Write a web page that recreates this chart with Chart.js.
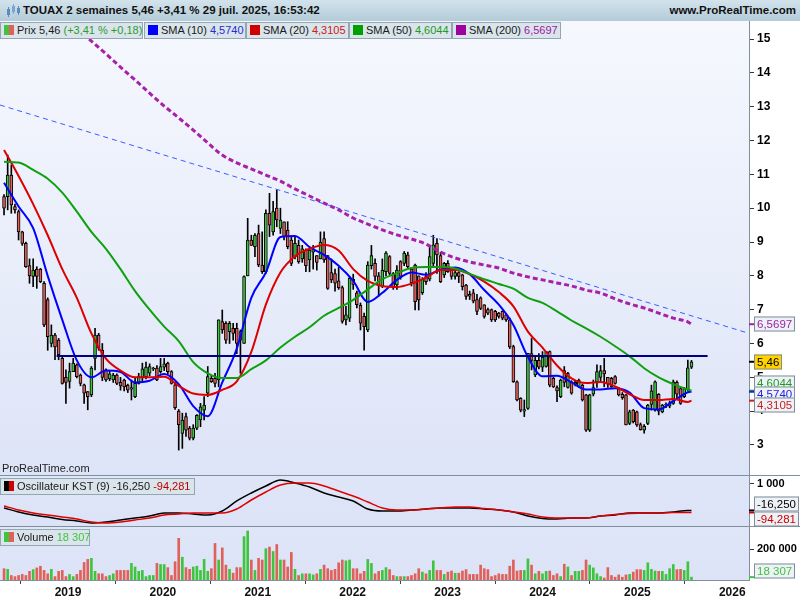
<!DOCTYPE html>
<html>
<head>
<meta charset="utf-8">
<script src="https://cdn.jsdelivr.net/npm/chart.js@4.4.1/dist/chart.umd.min.js"></script>
<style>
  body { margin: 0; width: 800px; height: 600px; overflow: hidden; background: #fff; position: relative;
         font-family: "Liberation Sans", Arial, sans-serif; }
  canvas { position: absolute; left: 0; }
  #titlebar { position: absolute; left: 0; top: 0; width: 800px; height: 21px;
              background: linear-gradient(#d3e3ec, #b3cbd8); }
  #titlebar .t { position: absolute; left: 23px; top: 4px; font-size: 11.5px; font-weight: bold; color: #111; }
  #titlebar .w { position: absolute; right: 4px; top: 4px; font-size: 11.5px; font-weight: bold; color: #111; }
  #titlebar svg { position: absolute; left: 5px; top: 3px; }
  .leg { position: absolute; height: 17px; box-sizing: border-box; border: 1px solid #93a6b3;
         background: #d9e4eb; font-size: 11px; color: #1a1a1a; line-height: 15px; white-space: nowrap; padding-left: 16px; }
  .leg i { position: absolute; left: 3px; top: 2px; width: 10px; height: 10px; }
  .sep { position: absolute; left: 0; width: 800px; height: 1px; background: #7f8f9b; }
  #wm { position: absolute; left: 2px; top: 462px; font-size: 11px; color: #222; }
</style>
</head>
<body>
<div id="titlebar">
  <svg width="16" height="15" viewBox="0 0 16 15">
    <rect x="2" y="6" width="3" height="6" fill="#5a8cc0"/><rect x="3" y="4" width="1" height="10" fill="#5a8cc0"/>
    <rect x="7" y="3" width="3" height="6" fill="#7aa6d6"/><rect x="8" y="1" width="1" height="10" fill="#7aa6d6"/>
    <rect x="12" y="5" width="3" height="5" fill="#5a8cc0"/><rect x="13" y="3" width="1" height="9" fill="#5a8cc0"/>
  </svg>
  <span class="t">TOUAX 2 semaines 5,46 +3,41 % 29 juil. 2025, 16:53:42</span>
  <span class="w">www.ProRealTime.com</span>
</div>

<canvas id="main" width="800" height="454" style="top:21px"></canvas>
<canvas id="kst" width="800" height="52" style="top:475px"></canvas>
<canvas id="vol" width="800" height="73" style="top:527px"></canvas>

<div class="sep" style="top:475px"></div>
<div class="sep" style="top:526px"></div>

<div class="leg" style="left:0;top:22px;width:143px"><i style="background:linear-gradient(90deg,#3fc43f 50%,#e0605a 50%)"></i>Prix 5,46 <span style="color:#2f9a2f">(+3,41 % +0,18)</span></div>
<div class="leg" style="left:144px;top:22px;width:102px"><i style="background:#0000ff"></i>SMA (10) <span style="color:#2b2bd0">4,5740</span></div>
<div class="leg" style="left:246px;top:22px;width:103px"><i style="background:#d00000"></i>SMA (20) <span style="color:#cc2020">4,3105</span></div>
<div class="leg" style="left:349px;top:22px;width:103px"><i style="background:#00a000"></i>SMA (50) <span style="color:#1e9a1e">4,6044</span></div>
<div class="leg" style="left:452px;top:22px;width:109px"><i style="background:#a000a0"></i>SMA (200) <span style="color:#a020a0">6,5697</span></div>
<div id="wm">ProRealTime.com</div>
<div class="leg" style="left:0;top:478px;width:195px"><i style="background:linear-gradient(90deg,#000 50%,#d00000 50%)"></i>Oscillateur KST (9) -16,250 <span style="color:#c00000">-94,281</span></div>
<div class="leg" style="left:0;top:529px;width:90px"><i style="background:linear-gradient(90deg,#3fc43f 50%,#e0605a 50%)"></i>Volume <span style="color:#3fc43f">18 307</span></div>

<script>
// Bars de 2 semaines, TOUAX
const opens = [
  10.34, 10.34, 10.98, 10.05, 9.9, 9.3, 8.96, 8.3, 7.98, 8.2,
  8.2, 7.78, 7.3, 6.0, 6.25, 6.1, 5.56, 5.0, 4.88, 5.17,
  5.37, 5.07, 4.78, 4.58, 4.48, 5.56, 6.25, 5.8, 5.22, 4.95,
  4.92, 5.07, 4.85, 4.92, 4.77, 4.65, 4.43, 4.82, 5.0, 5.02,
  5.12, 5.25, 5.27, 5.17, 5.3, 5.42, 5.17, 4.78, 4.0, 3.34,
  3.84, 3.5, 3.2, 3.5, 3.74, 4.03, 4.53, 4.97, 4.97, 4.92,
  6.65, 6.6, 6.35, 6.45, 6.45, 6.35, 6.0, 8.0, 9.06, 8.86,
  9.25, 8.32, 8.12, 9.85, 9.3, 10.0, 9.4, 9.6, 9.35, 9.06,
  8.57, 8.9, 8.5, 8.76, 8.47, 8.7, 8.6, 8.5, 9.1, 8.6,
  8.1, 8.07, 7.85, 7.65, 6.7, 6.75, 7.9, 7.5, 7.13, 6.8,
  6.4, 8.3, 8.37, 8.0, 7.7, 8.12, 8.57, 8.07, 7.73, 8.42,
  8.37, 8.62, 8.2, 8.32, 8.0, 7.5, 7.98, 7.9, 8.37, 8.96,
  8.6, 8.03, 8.37, 8.17, 7.98, 8.1, 8.03, 7.73, 7.45, 7.5,
  7.3, 7.35, 7.14, 7.0, 7.0, 6.95, 6.9, 6.95, 6.85, 6.7,
  5.91, 4.87, 4.38, 4.0, 4.08, 5.7, 5.07, 5.5, 5.3, 5.32,
  5.76, 4.97, 4.7, 4.43, 5.2, 4.7, 4.87, 4.8, 4.72, 4.77,
  4.48, 3.44, 4.5, 4.87, 5.0, 5.2, 5.0, 4.97, 5.02, 4.67,
  4.5, 4.48, 3.64, 4.03, 3.98, 3.6, 3.44, 3.64, 4.2, 4.03,
  4.5, 3.98, 4.18, 4.15, 4.23, 4.85, 4.67, 4.43, 4.63, 5.30
];
const highs = [
  10.4, 11.57, 11.28, 10.12, 9.95, 9.32, 9.0, 8.5, 8.5, 8.27,
  8.22, 7.83, 7.35, 6.55, 6.3, 6.15, 5.6, 5.22, 5.42, 5.56,
  5.4, 5.1, 4.8, 4.58, 5.32, 6.45, 6.3, 6.0, 5.25, 5.2,
  5.12, 5.1, 5.0, 4.95, 4.8, 4.92, 5.0, 5.12, 5.42, 5.45,
  5.4, 5.3, 5.35, 5.56, 5.56, 5.45, 5.2, 4.85, 4.05, 3.94,
  3.94, 3.55, 3.6, 3.9, 4.23, 4.43, 5.32, 5.05, 5.12, 6.7,
  6.99, 6.65, 6.65, 6.6, 6.6, 6.4, 8.0, 9.7, 9.2, 9.25,
  9.5, 9.3, 9.95, 10.44, 10.2, 10.54, 10.0, 9.6, 9.6, 9.16,
  9.16, 9.06, 8.9, 8.8, 8.8, 8.9, 8.6, 9.3, 9.3, 8.6,
  8.5, 8.2, 8.25, 7.7, 7.1, 7.98, 8.05, 7.55, 7.2, 6.9,
  8.42, 8.9, 8.5, 8.1, 8.5, 8.72, 8.6, 8.1, 8.3, 8.45,
  8.72, 8.7, 8.25, 8.35, 8.0, 7.95, 8.1, 8.87, 9.2, 9.1,
  8.7, 8.4, 8.45, 8.2, 8.15, 8.12, 8.05, 7.75, 7.55, 7.6,
  7.45, 7.38, 7.15, 7.05, 7.02, 6.98, 6.92, 6.97, 6.87, 6.75,
  5.95, 4.9, 4.4, 4.33, 5.71, 6.15, 5.6, 5.7, 5.76, 5.76,
  5.78, 5.0, 4.75, 4.95, 5.32, 5.15, 4.9, 4.9, 4.95, 4.8,
  4.5, 4.5, 4.92, 5.37, 5.35, 5.56, 5.0, 5.0, 5.05, 4.7,
  4.55, 4.5, 4.03, 4.05, 4.0, 3.65, 3.6, 4.2, 4.77, 4.9,
  4.52, 4.2, 4.25, 4.3, 4.92, 4.9, 4.7, 4.7, 5.51, 5.50
];
const lows = [
  9.8, 9.95, 9.85, 9.85, 9.06, 8.9, 8.25, 7.78, 7.68, 7.63,
  7.8, 6.5, 5.8, 5.9, 5.52, 5.52, 4.8, 4.23, 4.68, 5.17,
  4.98, 4.75, 4.23, 4.04, 4.43, 5.22, 5.8, 4.9, 4.88, 4.9,
  4.85, 4.78, 4.62, 4.6, 4.55, 4.33, 4.4, 4.8, 4.9, 4.95,
  5.05, 5.2, 4.9, 5.12, 5.2, 5.1, 4.8, 4.05, 2.85, 2.9,
  3.25, 3.15, 3.15, 3.45, 3.54, 3.74, 4.43, 4.85, 4.72, 4.72,
  6.3, 6.0, 6.0, 6.1, 5.7, 5.12, 6.0, 8.0, 8.9, 8.57,
  8.27, 8.07, 8.07, 9.16, 9.2, 9.45, 9.25, 9.06, 8.8, 8.3,
  8.5, 8.37, 8.4, 8.12, 8.12, 8.2, 8.17, 8.5, 8.4, 7.6,
  7.8, 7.55, 7.6, 6.6, 6.55, 6.65, 7.6, 7.05, 6.4, 5.8,
  6.35, 8.2, 7.85, 7.4, 7.65, 8.0, 8.0, 7.6, 7.6, 7.9,
  8.3, 8.2, 7.7, 6.99, 6.99, 7.45, 7.75, 7.85, 8.3, 8.07,
  7.8, 7.95, 8.1, 7.9, 7.9, 7.8, 7.58, 7.3, 7.3, 7.2,
  6.85, 7.0, 6.75, 6.85, 6.65, 6.65, 6.75, 6.7, 6.65, 5.85,
  4.85, 4.3, 3.98, 3.84, 4.05, 5.22, 5.02, 5.25, 5.17, 5.3,
  4.72, 4.7, 4.28, 4.4, 4.72, 4.68, 4.5, 4.75, 4.7, 4.3,
  3.4, 3.4, 4.45, 4.7, 4.85, 4.72, 4.7, 4.7, 4.8, 4.45,
  4.35, 3.59, 3.6, 3.65, 3.55, 3.44, 3.35, 3.6, 4.03, 4.0,
  3.89, 3.95, 4.1, 4.1, 4.2, 4.4, 4.2, 4.4, 4.6, 5.26
];
const closes = [
  10.0, 10.98, 10.1, 9.95, 9.3, 8.96, 8.27, 8.0, 8.17, 7.98,
  7.83, 6.55, 6.2, 6.25, 5.9, 5.67, 4.82, 4.85, 5.17, 5.42,
  5.02, 4.82, 4.53, 4.43, 5.27, 6.25, 5.86, 5.0, 4.92, 5.1,
  5.07, 4.82, 4.75, 4.72, 4.62, 4.7, 4.82, 5.02, 5.25, 5.3,
  5.32, 5.27, 4.92, 5.32, 5.4, 5.17, 4.82, 4.1, 3.6, 3.74,
  3.44, 3.2, 3.5, 3.88, 4.13, 4.18, 5.02, 4.87, 4.82, 6.7,
  6.4, 6.1, 6.6, 6.3, 6.0, 6.1, 7.98, 9.06, 8.9, 9.2,
  8.32, 8.12, 9.85, 9.5, 9.9, 9.65, 9.65, 9.16, 8.86, 8.37,
  8.96, 8.42, 8.8, 8.3, 8.76, 8.8, 8.4, 9.0, 8.47, 7.63,
  7.88, 7.78, 7.65, 6.65, 6.85, 7.93, 7.75, 7.15, 6.6, 6.5,
  8.32, 8.6, 7.98, 7.7, 8.17, 8.67, 8.07, 7.68, 8.17, 7.98,
  8.67, 8.27, 7.8, 7.24, 7.29, 7.9, 7.83, 8.57, 8.92, 8.62,
  7.83, 8.37, 8.12, 7.98, 8.1, 7.98, 7.68, 7.39, 7.4, 7.25,
  6.95, 7.04, 6.8, 6.9, 6.7, 6.7, 6.8, 6.75, 6.7, 5.9,
  4.87, 4.33, 4.03, 4.05, 5.71, 5.5, 5.5, 5.3, 5.6, 5.76,
  4.77, 4.72, 4.6, 4.92, 4.85, 5.12, 4.53, 4.85, 4.92, 4.33,
  3.44, 4.48, 4.7, 5.17, 5.2, 5.1, 4.8, 4.72, 4.82, 4.48,
  4.4, 3.59, 3.98, 3.69, 3.59, 3.45, 3.55, 4.18, 4.6, 4.87,
  4.0, 4.18, 4.2, 4.25, 4.87, 4.5, 4.23, 4.67, 5.28, 5.46
];
const volumes = [
  73000, 69000, 29000, 22000, 29000, 36000, 29000, 56000, 67000, 78000,
  89000, 62000, 40000, 69000, 22000, 56000, 62000, 22000, 36000, 22000,
  36000, 62000, 113000, 133000, 140000, 56000, 40000, 40000, 22000, 29000,
  40000, 62000, 62000, 62000, 62000, 107000, 84000, 56000, 62000, 22000,
  29000, 29000, 107000, 100000, 100000, 80000, 29000, 118000, 269000, 147000,
  80000, 69000, 84000, 89000, 62000, 133000, 56000, 73000, 236000, 129000,
  207000, 96000, 69000, 44000, 80000, 80000, 280000, 316000, 129000, 62000,
  140000, 129000, 202000, 213000, 184000, 229000, 129000, 129000, 84000, 178000,
  69000, 29000, 40000, 40000, 40000, 33000, 40000, 69000, 96000, 73000,
  62000, 69000, 111000, 129000, 124000, 129000, 73000, 73000, 40000, 56000,
  133000, 107000, 40000, 56000, 62000, 80000, 67000, 29000, 22000, 22000,
  22000, 22000, 29000, 40000, 73000, 51000, 40000, 62000, 124000, 62000,
  62000, 36000, 51000, 58000, 44000, 44000, 58000, 67000, 36000, 36000,
  36000, 96000, 73000, 67000, 22000, 29000, 40000, 36000, 36000, 89000,
  129000, 58000, 62000, 62000, 136000, 96000, 40000, 56000, 40000, 56000,
  58000, 29000, 40000, 22000, 102000, 84000, 29000, 56000, 56000, 62000,
  129000, 96000, 78000, 40000, 22000, 13000, 80000, 29000, 18000, 33000,
  18000, 33000, 36000, 51000, 67000, 67000, 62000, 111000, 69000, 58000,
  56000, 56000, 36000, 73000, 100000, 67000, 69000, 62000, 118000, 18307
];

// indicateurs relevés toutes les 4 barres (indices 0, 4, ... 188, puis 189)
const indIdx = [0, 4, 8, 12, 16, 20, 24, 28, 32, 36, 40, 44, 48, 52, 56, 60, 64, 68, 72, 76,
  80, 84, 88, 92, 96, 100, 104, 108, 112, 116, 120, 124, 128, 132, 136, 140, 144, 148, 152, 156,
  160, 164, 168, 172, 176, 180, 184, 188, 189];
const sma10 = [10.75, 10.05, 9.41, 8.0, 6.7, 5.5, 5.0, 5.2, 5.16, 4.85, 4.9, 5.1, 4.8, 4.15, 3.85,
  4.85, 5.85, 7.35, 8.1, 9.15, 9.18, 8.85, 8.62, 8.3, 7.85, 7.23, 7.5, 7.88, 8.1, 8.03, 8.18, 8.25,
  8.05, 7.58, 7.15, 6.55, 5.6, 5.03, 5.05, 4.85, 4.64, 4.64, 4.68, 4.55, 4.09, 4.05, 4.3, 4.56, 4.574];
const sma20 = [11.72, 10.95, 10.12, 9.2, 8.2, 7.35, 6.3, 5.55, 5.2, 5.0, 5.0, 5.02, 4.75, 4.52, 4.48,
  4.63, 4.88, 5.75, 7.15, 8.1, 8.58, 8.8, 8.91, 8.75, 8.2, 7.85, 7.7, 7.67, 7.77, 7.95, 8.17, 8.17,
  8.05, 7.83, 7.52, 7.1, 6.35, 5.88, 5.35, 4.97, 4.83, 4.86, 4.73, 4.5, 4.33, 4.33, 4.36, 4.27, 4.3105];
const sma50 = [11.37, 11.35, 11.13, 10.87, 10.46, 9.9, 9.3, 8.8, 8.2, 7.55, 7.0, 6.5, 6.07, 5.45, 5.12,
  4.98, 4.98, 5.24, 5.5, 5.88, 6.2, 6.48, 6.82, 7.05, 7.29, 7.6, 7.9, 8.08, 8.23, 8.26, 8.26, 8.22,
  8.06, 7.9, 7.76, 7.62, 7.35, 7.2, 6.95, 6.68, 6.45, 6.2, 5.92, 5.62, 5.27, 5.0, 4.8, 4.64, 4.6044];
const sma200 = [null, null, null, null, null, 15.3, 14.94, 14.56, 14.17, 13.79, 13.4, 13.02, 12.67,
  12.31, 11.93, 11.57, 11.34, 11.16, 10.98, 10.8, 10.57, 10.36, 10.15, 9.95, 9.71, 9.53, 9.36, 9.21,
  9.09, 8.94, 8.7, 8.53, 8.41, 8.32, 8.23, 8.08, 7.97, 7.88, 7.79, 7.7, 7.58, 7.49, 7.32, 7.17, 7.05,
  6.9, 6.75, 6.64, 6.5697];
const kstLine = [75, -75, -190, -264, -358, -415, -490, -452, -377, -302, -226, -113, -113, -151, -190,
  -38, 340, 640, 905, 1130, 1018, 867, 640, 490, 340, 38, -38, -38, 0, 38, 75, 75, 75, 38, 0, -75,
  -226, -320, -339, -302, -302, -226, -190, -113, -113, -113, -75, -16, -16.25];
const kstSignal = [151, 0, -113, -190, -264, -340, -452, -490, -452, -377, -302, -190, -151, -113,
  -113, -113, 38, 377, 680, 943, 1018, 1018, 905, 716, 528, 300, 75, 0, 0, 38, 75, 113, 113, 56, 0,
  -75, -151, -264, -302, -302, -302, -226, -170, -132, -113, -113, -94, -90, -94.281];

// tracés manuels
const trendValues = [13.05, 6.3];          // droite de tendance, bords gauche et droit
const supportValue = 5.63;                  // ligne horizontale
const supportSpan = [2018.88, 2025.74];

const priceTicks = [3, 4, 5, 6, 7, 8, 9, 10, 11, 12, 13, 14, 15];
const yearTicks = [2019, 2020, 2021, 2022, 2023, 2024, 2025, 2026];

const X_MIN = 2018.2835, X_MAX = 2026.176;
const FONT = '"Liberation Sans", Arial, sans-serif';
const UP = '#3fc43f', DOWN = '#e0605a';

function toYear(ms) {
    const d = new Date(ms);
    const y = d.getUTCFullYear();
    const a = Date.UTC(y, 0, 1), b = Date.UTC(y + 1, 0, 1);
    return y + (ms - a) / (b - a);
}
const start = Date.UTC(2018, 3, 30);
const barDates = closes.map((_, i) => toYear(start + i * 14 * 86400000));

const pts = arr => indIdx.map((k, j) => ({ x: barDates[k], y: arr[j] }));
const frFmt = (v, d) => v.toFixed(d).replace('.', ',');

function fixAxis(w) {
    return s => { s.width = w; s.paddingTop = 0; s.paddingBottom = 0; s.paddingLeft = 0; s.paddingRight = 0; };
}
function xScale(show) {
    return {
        type: 'linear', min: X_MIN, max: X_MAX, offset: false, display: show,
        afterBuildTicks: s => { s.ticks = yearTicks.map(v => ({ value: v })); },
        afterFit: s => { s.height = show ? 20 : 0; s.paddingLeft = 0; s.paddingRight = 0; },
        ticks: { autoSkip: false, maxRotation: 0, padding: 1, color: '#111',
                 font: { family: FONT, size: 12, weight: 'bold' }, callback: v => String(Math.round(v)) },
        grid: { drawOnChartArea: false, tickLength: 4, tickColor: '#444' },
        border: { color: '#7f8f9b' }
    };
}
function yScale(min, max, ticks, fmt, size) {
    return {
        position: 'right', min: min, max: max,
        afterBuildTicks: s => { s.ticks = ticks.map(v => ({ value: v })); },
        afterFit: fixAxis(51),
        ticks: { color: '#000', padding: 3, font: { family: FONT, size: size || 12, weight: 'bold' }, callback: fmt },
        grid: { drawOnChartArea: false, tickLength: 5, tickColor: '#333' },
        border: { color: '#7f8f9b' }
    };
}

const panelBg = (c1, c2) => ({
    id: 'panelBg',
    beforeDraw(chart) {
        const { ctx, chartArea: a } = chart;
        const g = ctx.createLinearGradient(0, a.top, 0, a.bottom);
        g.addColorStop(0, c1);
        g.addColorStop(1, c2);
        ctx.save();
        ctx.fillStyle = g;
        ctx.fillRect(a.left, a.top, a.right - a.left, a.bottom - a.top);
        ctx.restore();
    }
});

// étiquettes de valeur sur l'axe droit
const badges = (list, minY, maxY, gap) => ({
    id: 'badges',
    afterDraw(chart) {
        const { ctx, chartArea: a } = chart;
        const ys = chart.scales.y;
        const items = list.map(b => Object.assign({ py: ys.getPixelForValue(b.value) }, b));
        items.forEach(b => { b.cy = b.py; });
        // regroupe les étiquettes qui se chevauchent
        const sorted = items.slice().sort((p, q) => p.py - q.py);
        let groups = sorted.map(b => [b]);
        let merged = true;
        while (merged) {
            merged = false;
            for (let g = 0; g < groups.length - 1; g++) {
                const A = groups[g], B = groups[g + 1];
                if (A[A.length - 1].cy + gap > B[0].cy) {
                    const grp = A.concat(B);
                    const mean = grp.reduce((s, b) => s + b.py, 0) / grp.length;
                    grp.forEach((b, k) => { b.cy = mean + (k - (grp.length - 1) / 2) * gap; });
                    groups.splice(g, 2, grp);
                    merged = true;
                    break;
                }
            }
        }
        ctx.save();
        ctx.font = '11.5px ' + FONT;
        ctx.textBaseline = 'middle';
        sorted.forEach(b => {
            const cy = Math.max(minY, Math.min(maxY, b.cy));
            ctx.strokeStyle = b.color;
            ctx.lineWidth = 2;
            ctx.beginPath(); ctx.moveTo(a.right, b.py); ctx.lineTo(a.right + 5, b.py); ctx.stroke();
            const w = Math.ceil(ctx.measureText(b.text).width) + 5;
            const x = a.right + 5, y = Math.round(cy) - 7.5;
            ctx.fillStyle = b.bg || '#eef2f6';
            ctx.fillRect(x, y, w, 15);
            ctx.strokeStyle = '#7d8d99';
            ctx.lineWidth = 1;
            ctx.strokeRect(x + 0.5, y + 0.5, w - 1, 14);
            ctx.fillStyle = b.color;
            ctx.fillText(b.text, x + 3, y + 8);
        });
        ctx.restore();
    }
});

const last = arr => arr[arr.length - 1];
const common = { responsive: false, animation: false, devicePixelRatio: 1, layout: { padding: 0 },
                 plugins: { legend: { display: false }, tooltip: { enabled: false } } };

// Graphique principal : cours + moyennes mobiles
new Chart(document.getElementById('main'), {
    type: 'bar',
    data: {
        datasets: [
            {
                type: 'line', data: [{ x: X_MIN, y: trendValues[0] }, { x: X_MAX, y: trendValues[1] }],
                borderColor: '#3d5cff', borderWidth: 1, borderDash: [5, 4], pointRadius: 0, order: 1
            },
            {
                type: 'line', data: [{ x: supportSpan[0], y: supportValue }, { x: supportSpan[1], y: supportValue }],
                borderColor: '#000088', borderWidth: 2, pointRadius: 0, order: 2
            },
            {
                type: 'line', data: pts(sma200), borderColor: '#a81fa8', borderWidth: 3, borderDash: [5, 3],
                pointRadius: 0, tension: 0.4, cubicInterpolationMode: 'monotone', spanGaps: false, order: 3
            },
            {
                type: 'line', data: pts(sma50), borderColor: '#0fa00f', borderWidth: 2, pointRadius: 0,
                cubicInterpolationMode: 'monotone', order: 3
            },
            {
                type: 'line', data: pts(sma20), borderColor: '#dd0000', borderWidth: 2, pointRadius: 0,
                cubicInterpolationMode: 'monotone', order: 3
            },
            {
                type: 'line', data: pts(sma10), borderColor: '#0000ff', borderWidth: 2, pointRadius: 0,
                cubicInterpolationMode: 'monotone', order: 3
            },
            {
                data: barDates.map((t, i) => ({ x: t, y: [opens[i], closes[i]] })),
                backgroundColor: closes.map((c, i) => c >= opens[i] ? UP : DOWN),
                borderColor: '#000', borderWidth: 1, borderSkipped: false,
                barThickness: 3, grouped: false, order: 8
            },
            {
                data: barDates.map((t, i) => ({ x: t, y: [lows[i], highs[i]] })),
                backgroundColor: '#000', barThickness: 1, grouped: false, order: 9
            }
        ]
    },
    options: Object.assign({}, common, {
        scales: {
            x: xScale(false),
            y: yScale(2.1132, 15.533, priceTicks, v => String(v))
        }
    }),
    plugins: [
        panelBg('#f6f8fe', '#dde4f7'),
        badges([
            { value: last(sma200), text: frFmt(last(sma200), 4), color: '#a020a0' },
            { value: last(closes), text: frFmt(last(closes), 2), color: '#000', bg: '#ffd200' },
            { value: last(sma50), text: frFmt(last(sma50), 4), color: '#1e9a1e' },
            { value: last(sma10), text: frFmt(last(sma10), 4), color: '#2020e0' },
            { value: last(sma20), text: frFmt(last(sma20), 4), color: '#cc2020' }
        ], 8, 446, 11)
    ]
});

// Oscillateur KST
new Chart(document.getElementById('kst'), {
    type: 'line',
    data: {
        datasets: [
            { data: pts(kstSignal), borderColor: '#e00000', borderWidth: 1.5, pointRadius: 0, cubicInterpolationMode: 'monotone' },
            { data: pts(kstLine), borderColor: '#000', borderWidth: 1.5, pointRadius: 0, cubicInterpolationMode: 'monotone' }
        ]
    },
    options: Object.assign({}, common, {
        scales: {
            x: xScale(false),
            y: yScale(-641, 1320, [1000], v => '1 000', 11)
        }
    }),
    plugins: [
        panelBg('#dfe6f8', '#dce3f7'),
        badges([
            { value: last(kstLine), text: frFmt(last(kstLine), 3), color: '#000' },
            { value: last(kstSignal), text: frFmt(last(kstSignal), 3), color: '#cc0000' }
        ], 8, 44, 15)
    ]
});

// Volume
new Chart(document.getElementById('vol'), {
    type: 'bar',
    data: {
        datasets: [{
            data: barDates.map((t, i) => ({ x: t, y: volumes[i] })),
            backgroundColor: closes.map((c, i) => c >= opens[i] ? UP : DOWN),
            barThickness: 2, grouped: false
        }]
    },
    options: Object.assign({}, common, {
        scales: {
            x: xScale(true),
            y: yScale(0, 342000, [200000], v => '200 000', 11)
        }
    }),
    plugins: [
        panelBg('#dfe6f8', '#dce3f7'),
        badges([
            { value: last(volumes), text: '18 307', color: '#3fc43f' }
        ], 8, 44, 15)
    ]
});
</script>
</body>
</html>
